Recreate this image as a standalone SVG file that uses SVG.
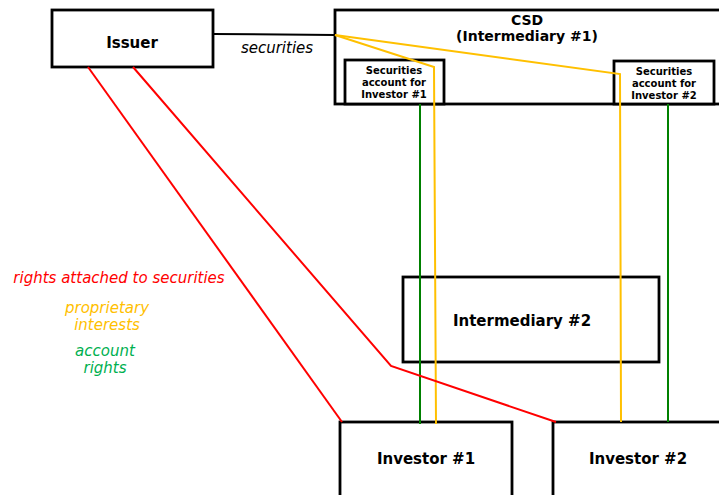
<svg xmlns="http://www.w3.org/2000/svg" width="719" height="495" viewBox="0 0 719 495">
<style>
.box{fill:#fff;stroke:#000;stroke-width:2.8}
.t{font-family:"DejaVu Sans",Verdana,sans-serif;text-anchor:middle}
.b{font-weight:bold}
.big{font-size:15px}
.sm{font-size:10px}
.it{font-style:italic;font-size:15px}
.red{fill:none;stroke:#ff0000;stroke-width:2}
.yel{fill:none;stroke:#ffc000;stroke-width:2}
.grn{fill:none;stroke:#008000;stroke-width:2}
</style>
<rect width="719" height="495" fill="#fff"/>
<g id="csd">
<rect class="box" x="335" y="10" width="400" height="94"/>
<text class="t b" x="527" y="25" font-size="14">CSD</text>
<text class="t b" x="527" y="41" font-size="14">(Intermediary #1)</text>
</g>
<g id="acct1">
<rect class="box" x="345" y="60" width="99" height="44"/>
<text class="t b sm" x="394" y="74">Securities</text>
<text class="t b sm" x="394" y="86">account for</text>
<text class="t b sm" x="394" y="98">Investor #1</text>
</g>
<g id="acct2">
<rect class="box" x="614" y="61" width="100" height="43"/>
<text class="t b sm" x="664" y="75">Securities</text>
<text class="t b sm" x="664" y="87">account for</text>
<text class="t b sm" x="664" y="99">Investor #2</text>
</g>
<g id="issuer">
<rect class="box" x="52" y="10" width="161" height="57"/>
<text class="t b big" x="132" y="48">Issuer</text>
</g>
<g id="intermediary2">
<rect class="box" x="403" y="277" width="256" height="85"/>
<text class="t b big" x="522" y="326">Intermediary #2</text>
</g>
<g id="investor1">
<rect class="box" x="340" y="422" width="172" height="80"/>
<text class="t b big" x="426" y="464">Investor #1</text>
</g>
<g id="investor2">
<rect class="box" x="553" y="422" width="180" height="80"/>
<text class="t b big" x="638" y="464">Investor #2</text>
</g>
<g id="connectors">
<path d="M213 34 L335 35" fill="none" stroke="#000" stroke-width="2"/>
<path class="yel" d="M335 35 L434 67 L436 424"/>
<path class="yel" d="M335 35 L620 74 L621 422"/>
<path class="grn" d="M420 104 L420 424"/>
<path class="grn" d="M668 104 L668 422"/>
<path class="red" d="M88 67 L342 422"/>
<path class="red" d="M133 67 L391 366 L556 422"/>
</g>
<g id="labels">
<text class="t it" x="277" y="53">securities</text>
<text class="t it" x="119" y="283" fill="#ff0000">rights attached to securities</text>
<text class="t it" x="107" y="313" fill="#ffc000">proprietary</text>
<text class="t it" x="107" y="330" fill="#ffc000">interests</text>
<text class="t it" x="105" y="356" fill="#00b050">account</text>
<text class="t it" x="105" y="373" fill="#00b050">rights</text>
</g>
</svg>
